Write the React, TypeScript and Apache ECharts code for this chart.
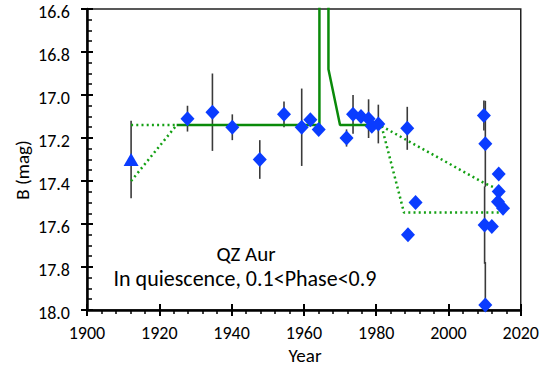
import React, { useEffect, useRef } from 'react';
import * as echarts from 'echarts';

const diamondYears = [1927.8, 1934.7, 1940.2, 1947.8, 1954.5, 1959.4, 1961.8, 1964.1, 1971.8, 1973.6, 1975.8, 1977.9, 1978.8, 1980.6, 1988.6, 1988.8, 1990.9, 2009.8, 2010.2, 2010.0, 2012.0, 2010.2, 2013.9, 2013.9, 2013.7, 2015.1];
const diamondMags = [17.11, 17.08, 17.15, 17.30, 17.09, 17.15, 17.115, 17.16, 17.20, 17.09, 17.10, 17.11, 17.145, 17.135, 17.155, 17.65, 17.50, 17.095, 17.227, 17.605, 17.612, 17.977, 17.367, 17.449, 17.496, 17.527];
const diamondErrs = [0.06, 0.18, 0.06, 0.09, 0.06, 0.18, 0, 0, 0.04, 0.09, 0, 0.09, 0, 0.09, 0.10, 0, 0, 0.07, 0.2, 0.18, 0, 0.2, 0, 0, 0, 0];

const triangleYears = [1912.2];
const triangleMags = [17.3];
const triangleErrs = [0.18];

const solidEarlyYears = [1924.8, 1964.3, 1964.3];
const solidEarlyMags = [17.14, 17.14, 15.5];
const solidLateYears = [1966.8, 1966.8, 1970.0, 1981.0];
const solidLateMags = [15.5, 16.88, 17.14, 17.14];

const dotUpperEarlyYears = [1912.2, 1924.8];
const dotUpperEarlyMags = [17.14, 17.14];
const dotLowerEarlyYears = [1912.2, 1924.8];
const dotLowerEarlyMags = [17.4, 17.14];
const dotUpperLateYears = [1981.5, 2009.9, 2013.1];
const dotUpperLateMags = [17.145, 17.41, 17.433];
const dotLowerLateYears = [1981.5, 1987.7, 2014.2];
const dotLowerLateMags = [17.145, 17.547, 17.547];

const xTicks = { min: 1900, max: 2020, interval: 20 };
const yTicks = { min: 16.6, max: 18.0, interval: 0.2 };

const FONT = 'Carlito, Lato, "Open Sans", sans-serif';
const BLUE = '#0a3cff';
const GREEN = '#0a8a0a';
const DOTGREEN = '#14a014';

const pairs = (xs: number[], ys: number[]) => xs.map((x, i) => [x, ys[i]]);

export default function App() {
  const ref = useRef<HTMLDivElement>(null);
  useEffect(() => {
    if (!ref.current) return;
    const chart = echarts.init(ref.current, undefined, { renderer: 'svg' });
    const errData = [
      ...diamondYears.map((x, i) => [x, diamondMags[i], diamondErrs[i]]),
      ...triangleYears.map((x, i) => [x, triangleMags[i], triangleErrs[i]]),
    ].filter((d) => d[2] > 0);

    const axisCommonX = { type: 'value', min: xTicks.min, max: xTicks.max, interval: xTicks.interval, position: 'bottom', splitLine: { show: false } };
    const axisCommonY = { type: 'value', min: yTicks.min, max: yTicks.max, interval: yTicks.interval, inverse: true, position: 'left', splitLine: { show: false } };

    const lineSeries = (name: string, xs: number[], ys: number[], color: string, dotted: boolean) => ({
      name,
      type: 'line',
      data: pairs(xs, ys),
      symbol: 'none',
      z: 3,
      clip: true,
      lineStyle: { color, width: 2.5, type: dotted ? [2, 3.2] : 'solid' },
    });

    chart.setOption({
      animation: false,
      grid: { left: 87, top: 9, width: 435, height: 301, show: true, borderColor: '#222', borderWidth: 1.5, backgroundColor: 'transparent' },
      xAxis: [
        {
          ...axisCommonX,
          axisLine: { show: true, lineStyle: { color: '#000', width: 2.5 } },
          axisTick: { show: true, inside: false, length: 6, lineStyle: { color: '#000', width: 2 } },
          minorTick: { show: true, splitNumber: 5, length: 4, lineStyle: { color: '#000', width: 1.5 } },
          axisLabel: { fontSize: 18, color: '#000', margin: 14, fontFamily: FONT, formatter: (v: number) => String(v) },
        },
        {
          ...axisCommonX,
          axisLine: { show: false },
          axisTick: { show: true, inside: true, length: 6, lineStyle: { color: '#000', width: 2 } },
          axisLabel: { show: false },
        },
      ],
      yAxis: [
        {
          ...axisCommonY,
          axisLine: { show: true, lineStyle: { color: '#000', width: 2.5 } },
          axisTick: { show: true, inside: false, length: 6, lineStyle: { color: '#000', width: 2 } },
          axisLabel: { fontSize: 18, color: '#000', margin: 17, verticalAlign: 'top', lineHeight: 6, fontFamily: FONT, formatter: (v: number) => v.toFixed(1) },
        },
        {
          ...axisCommonY,
          axisLine: { show: false },
          axisTick: { show: true, inside: true, length: 6, lineStyle: { color: '#000', width: 2 } },
          minorTick: { show: true, splitNumber: 4, length: 5, lineStyle: { color: '#000', width: 1.5 } },
          axisLabel: { show: false },
        },
      ],
      graphic: [
        { type: 'text', x: 22, y: 170, rotation: Math.PI / 2, style: { text: 'B (mag)', fontSize: 19, fontFamily: FONT, fill: '#000', align: 'center', verticalAlign: 'middle' } },
        { type: 'text', x: 305, y: 355, style: { text: 'Year', fontSize: 19, fontFamily: FONT, fill: '#000', align: 'center', verticalAlign: 'middle' } },
        { type: 'text', x: 246, y: 254, style: { text: 'QZ Aur', fontSize: 21, fontFamily: FONT, fill: '#000', align: 'center', verticalAlign: 'middle' } },
        { type: 'text', x: 245, y: 278, style: { text: 'In quiescence, 0.1<Phase<0.9', fontSize: 22, fontFamily: FONT, fill: '#000', align: 'center', verticalAlign: 'middle' } },
      ],
      series: [
        {
          name: 'errors',
          type: 'custom',
          clip: true,
          z: 2,
          data: errData,
          renderItem: (params: any, api: any) => {
            const x = api.value(0);
            const y = api.value(1);
            const e = api.value(2);
            const p1 = api.coord([x, y - e]);
            const p2 = api.coord([x, y + e]);
            return { type: 'line', shape: { x1: p1[0], y1: p1[1], x2: p2[0], y2: p2[1] }, style: { stroke: '#3a3a3a', lineWidth: 1.6 } };
          },
        },
        lineSeries('solidEarly', solidEarlyYears, solidEarlyMags, GREEN, false),
        lineSeries('solidLate', solidLateYears, solidLateMags, GREEN, false),
        lineSeries('dotUpperEarly', dotUpperEarlyYears, dotUpperEarlyMags, DOTGREEN, true),
        lineSeries('dotLowerEarly', dotLowerEarlyYears, dotLowerEarlyMags, DOTGREEN, true),
        lineSeries('dotUpperLate', dotUpperLateYears, dotUpperLateMags, DOTGREEN, true),
        lineSeries('dotLowerLate', dotLowerLateYears, dotLowerLateMags, DOTGREEN, true),
        {
          name: 'diamonds',
          type: 'scatter',
          z: 5,
          symbol: 'diamond',
          symbolSize: [14, 15],
          data: pairs(diamondYears, diamondMags),
          itemStyle: { color: BLUE, opacity: 1 },
        },
        {
          name: 'triangle',
          type: 'scatter',
          z: 5,
          symbol: 'triangle',
          symbolSize: [15, 13],
          data: pairs(triangleYears, triangleMags),
          itemStyle: { color: BLUE, opacity: 1 },
        },
      ],
    });
    return () => chart.dispose();
  }, []);
  return <div ref={ref} style={{ position: 'absolute', left: 0, top: 0, width: 542, height: 367 }} />;
}
